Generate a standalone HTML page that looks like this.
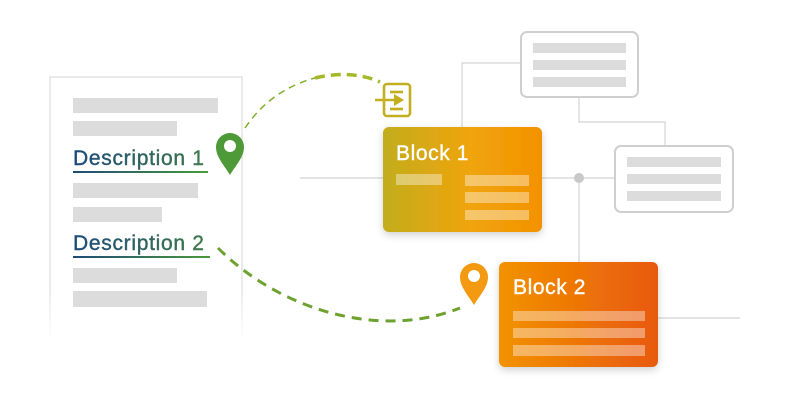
<!DOCTYPE html>
<html><head><meta charset="utf-8"><style>
body{margin:0;width:800px;height:400px;background:#fff;overflow:hidden;font-family:"Liberation Sans",sans-serif}
</style></head><body>
<svg width="800" height="400" viewBox="0 0 800 400" xmlns="http://www.w3.org/2000/svg">
<defs>
<linearGradient id="b1" x1="0" x2="1"><stop offset="0" stop-color="#c2ad1c"/><stop offset="0.55" stop-color="#f0a40c"/><stop offset="1" stop-color="#f39200"/></linearGradient>
<linearGradient id="b2" x1="0" x2="1"><stop offset="0" stop-color="#f39200"/><stop offset="1" stop-color="#e8590c"/></linearGradient>
<linearGradient id="ul" x1="0" x2="1"><stop offset="0" stop-color="#1d4a7a"/><stop offset="1" stop-color="#4b9a3a"/></linearGradient>
<linearGradient id="tx" x1="0" x2="1"><stop offset="0" stop-color="#1d4a7a"/><stop offset="1" stop-color="#3f7a4a"/></linearGradient>
<linearGradient id="doc" x1="0" y1="0" x2="0" y2="1"><stop offset="0.8" stop-color="#ddd"/><stop offset="1" stop-color="#fff"/></linearGradient>
<filter id="sh" x="-20%" y="-20%" width="140%" height="150%"><feDropShadow dx="0" dy="3" stdDeviation="4" flood-color="#000" flood-opacity="0.18"/></filter>
</defs>
<g stroke="#d4d4d4" stroke-width="1.2" fill="none">
<line x1="300" y1="178" x2="383" y2="178"/>
<line x1="542" y1="178" x2="615" y2="178"/>
<line x1="579" y1="178" x2="579" y2="262"/>
<polyline points="462,127 462,63 521,63"/>
<polyline points="579,97 579,122 665,122 665,146"/>
<line x1="658" y1="318" x2="740" y2="318"/>
</g>
<circle cx="579" cy="178" r="5" fill="#c8c8c8"/>
<path d="M50 340 V77 H242 V340" fill="none" stroke="url(#doc)" stroke-width="1.2"/>
<g fill="#dcdcdc">
<rect x="73" y="98" width="145" height="15"/><rect x="73" y="121" width="104" height="15"/>
<rect x="73" y="183" width="125" height="15"/><rect x="73" y="207" width="89" height="15"/>
<rect x="73" y="268" width="104" height="15"/><rect x="73" y="291" width="134" height="16"/>
</g>
<g font-size="21" letter-spacing="0.7" fill="url(#tx)" stroke="url(#tx)" stroke-width="0.4">
<text x="73" y="165">Description 1</text>
<text x="73" y="250">Description 2</text>
</g>
<rect x="73" y="171" width="135" height="2" fill="url(#ul)"/>
<rect x="73" y="256" width="137" height="2" fill="url(#ul)"/>
<path d="M245 128 C262 103 285 86 315 78" fill="none" stroke="#7fae2c" stroke-width="1.5" stroke-dasharray="7 5"/>
<path d="M315 78 C340 72 362 74 380 82" fill="none" stroke="#a4b82a" stroke-width="3.5" stroke-dasharray="10 6"/>
<path d="M218 248 C280 310 380 340 460 308" fill="none" stroke="#6ea22f" stroke-width="3" stroke-dasharray="10 7"/>
<g stroke="#c3ae1e" stroke-width="2.6" fill="none">
<rect x="384" y="84" width="26" height="32" rx="3"/>
<line x1="390" y1="92" x2="403" y2="92"/><line x1="390" y1="109" x2="403" y2="109"/>
<line x1="375" y1="100" x2="396" y2="100"/>
</g>
<path d="M394 94 L404 100 L394 106Z" fill="#c3ae1e"/>
<path d="M230 175 C224 165 216 157 216 147 A14 14 0 0 1 244 147 C244 157 236 165 230 175Z" fill="#4e9a38"/>
<circle cx="230" cy="146" r="6" fill="#fff"/>
<path d="M474 305 C468 295 460 287 460 277 A14 14 0 0 1 488 277 C488 287 480 295 474 305Z" fill="#f39a10"/>
<circle cx="474" cy="276" r="6" fill="#fff"/>
<rect x="521" y="32" width="117" height="65" rx="6" fill="#fff" stroke="#cfcfcf" stroke-width="2"/>
<g fill="#dcdcdc"><rect x="533" y="43" width="93" height="10"/><rect x="533" y="60" width="93" height="10"/><rect x="533" y="77" width="93" height="10"/></g>
<rect x="615" y="146" width="118" height="66" rx="6" fill="#fff" stroke="#cfcfcf" stroke-width="2"/>
<g fill="#dcdcdc"><rect x="627" y="157" width="94" height="10"/><rect x="627" y="174" width="94" height="10"/><rect x="627" y="191" width="94" height="10"/></g>
<rect x="383" y="127" width="159" height="105" rx="6" fill="url(#b1)" filter="url(#sh)"/>
<text x="396" y="160" font-size="21" letter-spacing="0.6" fill="#fff" stroke="#fff" stroke-width="0.4">Block 1</text>
<g fill="#fff" fill-opacity="0.38"><rect x="396" y="174" width="46" height="11"/><rect x="465" y="175" width="64" height="11"/><rect x="465" y="192" width="64" height="11"/><rect x="465" y="210" width="64" height="10"/></g>
<rect x="499" y="262" width="159" height="105" rx="6" fill="url(#b2)" filter="url(#sh)"/>
<text x="513" y="294" font-size="21" letter-spacing="0.6" fill="#fff" stroke="#fff" stroke-width="0.4">Block 2</text>
<g fill="#fff" fill-opacity="0.38"><rect x="513" y="311" width="132" height="10"/><rect x="513" y="328" width="132" height="10"/><rect x="513" y="345" width="132" height="11"/></g>
</svg>
</body></html>
